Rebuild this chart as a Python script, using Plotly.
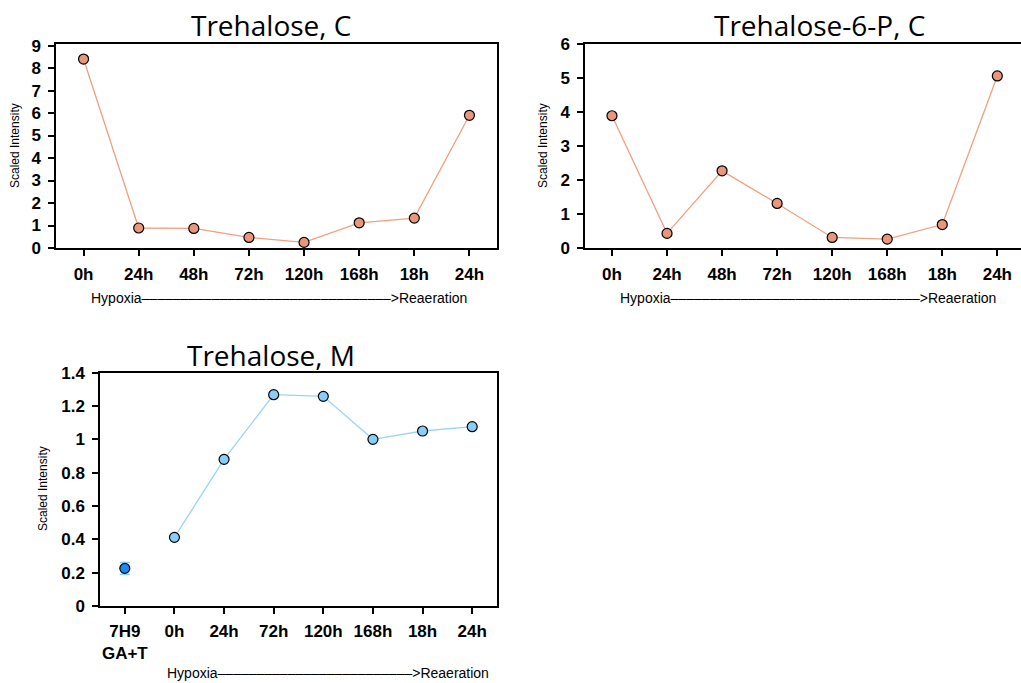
import plotly.graph_objects as go

# ---- data ----
cats_c = ["0h", "24h", "48h", "72h", "120h", "168h", "18h", "24h"]
trehalose_c = [8.40, 0.89, 0.87, 0.47, 0.25, 1.12, 1.33, 5.90]
t6p_c = [3.89, 0.43, 2.27, 1.31, 0.31, 0.26, 0.69, 5.06]

cats_m = ["7H9<br>GA+T", "0h", "24h", "72h", "120h", "168h", "18h", "24h"]
ref_m = [0.226]
ref_m_err = [0.035]
trehalose_m = [0.412, 0.88, 1.268, 1.258, 1.00, 1.05, 1.076]

W, H = 1021, 683
def px(x): return x / W
def py(y): return 1 - y / H

ORANGE = "#E9967A"
ORANGE_LINE = "#F0A080"
BLUE = "#87CEFA"
BLUE_LINE = "#9AD4F5"
DARK_BLUE = "#1E88F0"

fig = go.Figure()

idx_c = list(range(len(cats_c)))
fig.add_trace(go.Scatter(x=idx_c, y=trehalose_c, mode="lines+markers",
                         line=dict(color=ORANGE_LINE, width=1.3),
                         marker=dict(size=10, color=ORANGE, line=dict(color="black", width=1.2)),
                         xaxis="x", yaxis="y", showlegend=False))
fig.add_trace(go.Scatter(x=idx_c, y=t6p_c, mode="lines+markers",
                         line=dict(color=ORANGE_LINE, width=1.3),
                         marker=dict(size=10, color=ORANGE, line=dict(color="black", width=1.2)),
                         xaxis="x2", yaxis="y2", showlegend=False))
fig.add_trace(go.Scatter(x=[0], y=ref_m, mode="markers",
                         error_y=dict(type="data", array=ref_m_err, color=BLUE, thickness=1.5, width=5),
                         marker=dict(size=10, color=DARK_BLUE, line=dict(color="black", width=1.2)),
                         xaxis="x3", yaxis="y3", showlegend=False))
fig.add_trace(go.Scatter(x=list(range(1, len(cats_m))), y=trehalose_m, mode="lines+markers",
                         line=dict(color=BLUE_LINE, width=1.3),
                         marker=dict(size=10, color=BLUE, line=dict(color="black", width=1.2)),
                         xaxis="x3", yaxis="y3", showlegend=False))

tickfont = dict(family="Liberation Sans, Arial", size=17, color="black", weight="bold")
ax_common = dict(showline=True, linecolor="black", linewidth=1.5, ticks="outside",
                 ticklen=6, tickwidth=1.5, tickcolor="black", showgrid=False,
                 zeroline=False, tickfont=tickfont, automargin=False)

fig.update_layout(
    width=W, height=H, margin=dict(l=0, r=0, t=0, b=0),
    paper_bgcolor="white", plot_bgcolor="white",
    xaxis=dict(domain=[px(56), px(497)], range=[-0.5, 7.5], tickmode="array",
               tickvals=idx_c, ticktext=cats_c, mirror=True, anchor="y", ticklabelstandoff=4,
               **ax_common),
    yaxis=dict(domain=[py(248), py(44)], range=[0, 9.07], tickmode="array",
               tickvals=list(range(10)), mirror=True, anchor="x", ticklabelstandoff=4,
               **ax_common),
    xaxis2=dict(domain=[px(585), 1.0], range=[-0.49, 7.43], tickmode="array",
                tickvals=idx_c, ticktext=cats_c, mirror=True, anchor="y2", ticklabelstandoff=4,
                **ax_common),
    yaxis2=dict(domain=[py(248), py(44)], range=[0, 6], tickmode="array",
                tickvals=list(range(7)), mirror=False, anchor="x2", ticklabelstandoff=4,
                **ax_common),
    xaxis3=dict(domain=[px(100), px(497)], range=[-0.5, 7.5], tickmode="array",
                tickvals=list(range(len(cats_m))), ticktext=cats_m, mirror=True, anchor="y3",
                ticklabelstandoff=3, **ax_common),
    yaxis3=dict(domain=[py(606), py(372.7)], range=[0, 1.4], tickmode="array",
                tickvals=[0, 0.2, 0.4, 0.6, 0.8, 1.0, 1.2, 1.4],
                ticktext=["0", "0.2", "0.4", "0.6", "0.8", "1", "1.2", "1.4"],
                mirror=True, anchor="x3", ticklabelstandoff=4,
                **ax_common),
)

title_font = dict(family="Open Sans", size=28, color="black")
note_font = dict(family="Liberation Sans, Arial", size=14, color="black")
ylab_font = dict(family="Liberation Sans, Arial", size=12, color="black")
dash_text = "Hypoxia" + "–" * 32 + ">Reaeration"
dash_text3 = "Hypoxia" + "–" * 25 + ">Reaeration"
annos = [
    dict(text="Trehalose, C", x=px(271), y=py(25), xanchor="center", yanchor="middle", font=title_font),
    dict(text="Trehalose-6-P, C", x=px(819), y=py(25), xanchor="center", yanchor="middle", font=title_font),
    dict(text="Trehalose, M", x=px(271), y=py(355), xanchor="center", yanchor="middle", font=title_font),
    dict(text=dash_text, x=px(89), y=py(298), xanchor="left", yanchor="middle", font=note_font),
    dict(text=dash_text, x=px(618), y=py(298), xanchor="left", yanchor="middle", font=note_font),
    dict(text=dash_text3, x=px(165), y=py(673), xanchor="left", yanchor="middle", font=note_font),
    dict(text="Scaled Intensity", x=px(15), y=py(146), textangle=-90, xanchor="center", yanchor="middle", font=ylab_font),
    dict(text="Scaled Intensity", x=px(543), y=py(146), textangle=-90, xanchor="center", yanchor="middle", font=ylab_font),
    dict(text="Scaled Intensity", x=px(43), y=py(489), textangle=-90, xanchor="center", yanchor="middle", font=ylab_font),
]
for a in annos:
    a.update(xref="paper", yref="paper", showarrow=False)
fig.update_layout(annotations=annos)

fig.write_html("out.html")
